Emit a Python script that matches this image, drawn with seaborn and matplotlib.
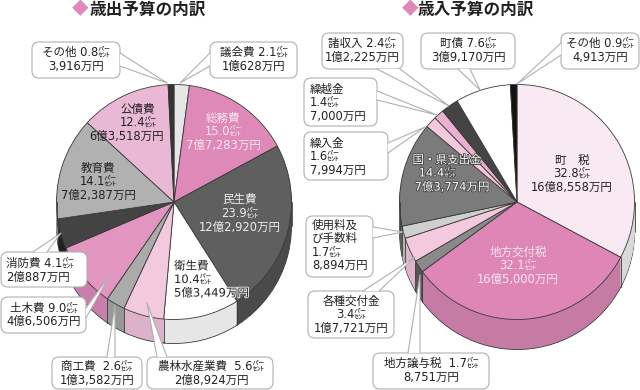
import matplotlib
matplotlib.use("Agg")
import matplotlib.pyplot as plt
import matplotlib.patheffects as pe
from matplotlib.patches import FancyBboxPatch, Polygon
import numpy as np
import seaborn as sns

sns.set_theme(style="white")
FONT = ["DejaVu Sans", "Noto Sans CJK JP"]
TITLE_FONT = ["Noto Sans CJK JP", "DejaVu Sans"]
plt.rcParams["font.family"] = FONT

# 歳出
out_names = ["議会費", "総務費", "民生費", "衛生費", "農林水産業費", "商工費", "土木費", "消防費", "教育費", "公債費", "その他"]
out_pct = [2.1, 15.0, 23.9, 10.4, 5.6, 2.6, 9.0, 4.1, 14.1, 12.4, 0.8]
out_amount = ["1億628万円", "7億7,283万円", "12億2,920万円", "5億3,449万円", "2億8,924万円", "1億3,582万円",
              "4億6,506万円", "2億887万円", "7億2,387万円", "6億3,518万円", "3,916万円"]
out_top = ["#e6e6e6", "#de89b7", "#5f5f5f", "#ffffff", "#f2c9dd", "#ababab", "#e195bf", "#434343", "#b1b1b1", "#e9b8d5", "#333333"]
out_side = ["#cccccc", "#c47aa2", "#4a4a4a", "#e6e6e6", "#dcb1c9", "#989898", "#c97fa9", "#222222", "#999999", "#d0a0bc", "#222222"]

# 歳入
in_names = ["町税", "地方交付税", "地方譲与税", "各種交付金", "使用料及び手数料", "国・県支出金", "繰入金", "繰越金", "諸収入", "町債", "その他"]
in_pct = [32.8, 32.1, 1.7, 3.4, 1.7, 14.4, 1.6, 1.4, 2.4, 7.6, 0.9]
in_amount = ["16億8,558万円", "16億5,000万円", "8,751万円", "1億7,721万円", "8,894万円", "7億3,774万円",
             "7,994万円", "7,000万円", "1億2,225万円", "3億9,170万円", "4,913万円"]
in_top = ["#f8e9f2", "#de86b5", "#8a8a8a", "#f2c9dd", "#cfcfcf", "#7b7b7b", "#f2c9dd", "#e9b0d0", "#444444", "#ffffff", "#111111"]
in_side = ["#d9d9d9", "#c67ba5", "#555555", "#e0b4cc", "#b5b5b5", "#606060", "#d8b0c5", "#d09ab8", "#333333", "#e6e6e6", "#111111"]

W, H = 640, 390
fig = plt.figure(figsize=(6.4, 3.9), dpi=100, facecolor="white")
ax = fig.add_axes([0, 0, 1, 1])
EDGE = "#3a3a3a"
R = 117.5


def Y(py):
    return H - py


def pie3d(values, top, side, cx, cy, depth):
    for d in range(depth, 0, -1):
        ew = 0.6 if d == depth else 0
        ax.pie(values, colors=side, startangle=90, counterclock=False, radius=R, center=(cx, Y(cy + d)),
               wedgeprops=dict(edgecolor=EDGE, linewidth=ew))
    frac = np.cumsum(values) / np.sum(values)
    for f in frac:
        th = 2 * np.pi * f
        if np.cos(th) < 0:
            x = cx + R * np.sin(th)
            y = cy - R * np.cos(th)
            ax.plot([x, x], [Y(y), Y(y + depth)], color=EDGE, lw=0.6)
    ax.plot([cx - R, cx - R], [Y(cy), Y(cy + depth)], color=EDGE, lw=0.6)
    ax.plot([cx + R, cx + R], [Y(cy), Y(cy + depth)], color=EDGE, lw=0.6)
    ax.pie(values, colors=top, startangle=90, counterclock=False, radius=R, center=(cx, Y(cy)),
           wedgeprops=dict(edgecolor=EDGE, linewidth=0.6))


pie3d(out_pct, out_top, out_side, 174, 202, 24)
pie3d(in_pct, in_top, in_side, 517, 202, 30)


def callout(x0, y0, x1, y1, base, tip):
    ax.add_patch(FancyBboxPatch((x0 + 7, Y(y1) + 7), x1 - x0 - 14, y1 - y0 - 14,
                                boxstyle="round,pad=7,rounding_size=7", fc="white", ec="#b0b0b0", lw=0.8, zorder=5))
    pts = [(base[0][0], Y(base[0][1])), (tip[0], Y(tip[1])), (base[1][0], Y(base[1][1]))]
    ax.add_patch(Polygon(pts, closed=True, fc="white", ec="none", zorder=5.1))
    ax.plot(*zip(pts[0], pts[1], pts[2]), color="#b0b0b0", lw=0.8, zorder=5.2)


def label(x, y, lines, color="#222222", ha="center", step=13.5, stroke=None, size=8.3):
    for i, s in enumerate(lines):
        t = ax.text(x, Y(y + i * step), s, ha=ha, va="center", fontsize=size, color=color, family=FONT, zorder=6)
        if stroke:
            t.set_path_effects([pe.withStroke(linewidth=1.2, foreground=stroke)])


def pct(v):
    return f"{v:.1f}㌫"


# titles
for x_d, x_t, s in [(80, 90, "歳出予算の内訳"), (410, 418, "歳入予算の内訳")]:
    ax.text(x_d, Y(10), "◆", color="#de89b7", fontsize=12, ha="center", va="center", family=TITLE_FONT)
    ax.text(x_t, Y(10), s, color="#222222", fontsize=12, fontweight="bold", ha="left", va="center", family=TITLE_FONT)

# left callouts
callout(32, 42, 120, 78, [(120, 53), (120, 66)], (167, 83))
label(76, 52, [f"{out_names[10]} {pct(out_pct[10])}", out_amount[10]], step=14.5)
callout(210, 42, 297, 78, [(210, 53), (210, 66)], (180, 83))
label(254, 52, [f"{out_names[0]} {pct(out_pct[0])}", out_amount[0]], step=14.5)
callout(1, 252, 87, 287, [(33, 252), (47, 252)], (61, 233))
label(6, 263, [f"{out_names[7]} {pct(out_pct[7])}", out_amount[7]], ha="left", step=14)
callout(1, 297, 86, 333, [(86, 308), (86, 318)], (110, 275))
label(44, 308, [f"{out_names[6]} {pct(out_pct[6])}", out_amount[6]], step=13.5)
callout(52, 357, 142, 389, [(107, 357), (115, 357)], (115, 305))
label(97, 366, [f"{out_names[5]}  {pct(out_pct[5])}", out_amount[5]], step=14)
callout(147, 357, 273, 389, [(157, 357), (167, 357)], (147, 303))
label(211, 366, [f"{out_names[4]}  {pct(out_pct[4])}", out_amount[4]], step=14)

# left inner labels
label(138, 109, [out_names[9], pct(out_pct[9])])
label(127, 136, [out_amount[9]])
label(223, 118, [out_names[1], pct(out_pct[1]), out_amount[1]], color="#f8e6f0")
label(98, 168, [out_names[8], pct(out_pct[8]), out_amount[8]])
label(240, 200, [out_names[2], pct(out_pct[2]), out_amount[2]], color="#eeeeee")
label(174, 266, [out_names[3], pct(out_pct[3]), out_amount[3]], ha="left", stroke="white")

# right callouts
callout(322, 33, 403, 69, [(377, 69), (400, 69)], (449, 106))
label(362, 43, [f"{in_names[8]} {pct(in_pct[8])}", in_amount[8]], step=14.5)
callout(421, 33, 515, 69, [(458, 69), (470, 69)], (480, 90))
label(468, 43, [f"{in_names[9]} {pct(in_pct[9])}", in_amount[9]], step=14.5)
callout(561, 33, 639, 69, [(561, 43), (561, 55)], (517, 84))
label(600, 43, [f"{in_names[10]} {pct(in_pct[10])}", in_amount[10]], step=14.5)
callout(304, 78, 377, 126, [(377, 91), (377, 100)], (437, 115))
label(310, 89, [in_names[7], pct(in_pct[7]), in_amount[7]], ha="left")
callout(304, 132, 388, 180, [(388, 143), (388, 153)], (425, 127))
label(310, 143, [in_names[6], pct(in_pct[6]), in_amount[6]], ha="left")
callout(306, 216, 373, 277, [(373, 227), (373, 238)], (403, 232))
label(312, 225, ["使用料及", "び手数料", pct(in_pct[4]), in_amount[4]], ha="left")
callout(308, 291, 394, 338, [(363, 291), (379, 291)], (415, 257))
label(351, 301, [in_names[3], pct(in_pct[3]), in_amount[3]])
callout(373, 353, 489, 389, [(408, 353), (420, 353)], (420, 275))
label(431, 363, [f"{in_names[2]}  {pct(in_pct[2])}", in_amount[2]], step=14.5)

# right inner labels
label(572, 160, ["町　税", pct(in_pct[0]), in_amount[0]])
label(447, 160, [in_names[5]], color="white", stroke="#444444")
label(437, 173, [pct(in_pct[5])], color="white", stroke="#444444")
label(452, 187, [in_amount[5]], color="white", stroke="#444444")
label(518, 252, [in_names[1], pct(in_pct[1]), in_amount[1]], color="#f8e6f0")

ax.set_xlim(0, W)
ax.set_ylim(0, H)
ax.set_aspect("auto")
ax.axis("off")
fig.savefig("out.png", dpi=100)
